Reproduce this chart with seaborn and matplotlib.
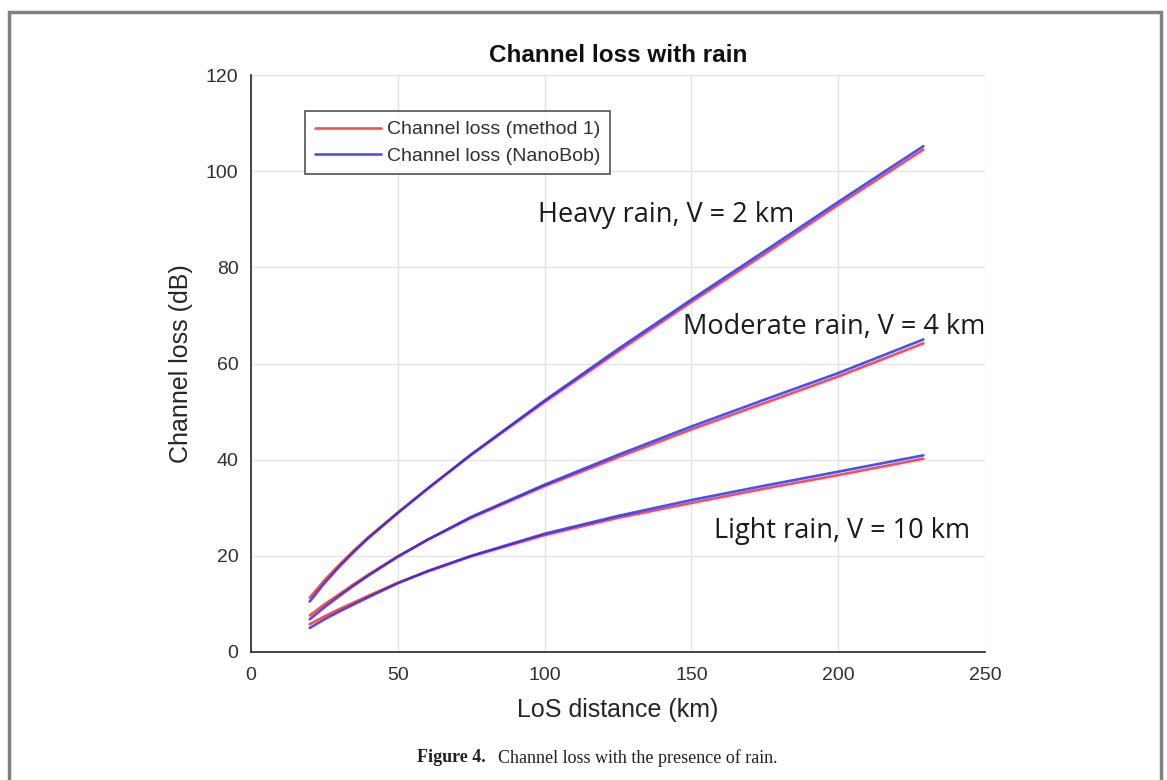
import numpy as np
import pandas as pd
import matplotlib
matplotlib.use("Agg")
import matplotlib.pyplot as plt
import seaborn as sns
from matplotlib.patches import Rectangle

# ---- data ----
distance_km = [20, 25, 30, 35, 40, 50, 60, 75, 100, 125, 150, 175, 200, 229]

heavy_method1 = [11.3, 14.9, 18.1, 21.1, 23.9, 29.0, 33.9, 41.0, 52.0, 62.5, 72.8, 82.8, 93.0, 104.5]
heavy_nanobob = [10.5, 14.3, 17.7, 20.8, 23.7, 28.9, 33.9, 41.1, 52.3, 63.0, 73.3, 83.4, 93.6, 105.2]

moderate_method1 = [7.6, 9.9, 12.0, 14.1, 16.1, 19.9, 23.3, 27.9, 34.5, 40.5, 46.3, 51.8, 57.3, 64.2]
moderate_nanobob = [6.8, 9.3, 11.6, 13.8, 15.9, 19.8, 23.3, 28.1, 34.8, 41.0, 46.9, 52.5, 58.0, 65.0]

light_method1 = [5.8, 7.4, 8.9, 10.3, 11.7, 14.4, 16.7, 19.9, 24.3, 27.9, 31.0, 34.0, 36.8, 40.2]
light_nanobob = [5.0, 6.8, 8.4, 9.9, 11.4, 14.3, 16.8, 20.0, 24.6, 28.3, 31.6, 34.6, 37.5, 40.9]

methods = ["Channel loss (method 1)", "Channel loss (NanoBob)"]
scenarios = ["Heavy rain, V = 2 km", "Moderate rain, V = 4 km", "Light rain, V = 10 km"]
label_x = [97.8, 147.1, 157.7]
label_y = [90.9, 67.6, 25.2]

x_ticks = [0, 50, 100, 150, 200, 250]
y_ticks = [0, 20, 40, 60, 80, 100, 120]

# ---- long-form table ----
series = {
    (scenarios[0], methods[0]): heavy_method1,
    (scenarios[0], methods[1]): heavy_nanobob,
    (scenarios[1], methods[0]): moderate_method1,
    (scenarios[1], methods[1]): moderate_nanobob,
    (scenarios[2], methods[0]): light_method1,
    (scenarios[2], methods[1]): light_nanobob,
}
rows = []
for (sc, m), vals in series.items():
    for x, v in zip(distance_km, vals):
        rows.append({"LoS distance (km)": x, "Channel loss (dB)": v,
                     "method": m, "scenario": sc})
df = pd.DataFrame(rows)

sns.set_theme(style="white")
plt.rcParams["font.family"] = ["Liberation Sans", "DejaVu Sans"]

fig = plt.figure(figsize=(11.67, 7.80), dpi=100)
ax = fig.add_axes([251 / 1167, 1 - 652 / 780, (985 - 251) / 1167, (652 - 75) / 780])

sns.lineplot(data=df, x="LoS distance (km)", y="Channel loss (dB)",
             hue="method", hue_order=methods, units="scenario", estimator=None,
             palette=["#ff2020", "#2020ff"], linewidth=1.9, alpha=0.8,
             sort=True, ax=ax)

ax.set_xlim(0, 250)
ax.set_ylim(0, 120)
ax.set_xticks(x_ticks)
ax.set_yticks(y_ticks)
ax.tick_params(axis="both", direction="in", length=5, width=1, colors="#262626",
               labelsize=14, labelcolor="#303030")
ax.tick_params(axis="x", pad=11)
ax.tick_params(axis="y", pad=9)
ax.grid(True, color="#e3e3e3", linewidth=1)
for s in ["top", "right"]:
    ax.spines[s].set_visible(False)
for s in ["left", "bottom"]:
    ax.spines[s].set_color("#262626")
    ax.spines[s].set_linewidth(1.2)

ax.set_xlabel("LoS distance (km)", fontsize=18, color="#262626", labelpad=10)
ax.set_ylabel("Channel loss (dB)", fontsize=18, color="#262626", labelpad=9)
ax.set_title("Channel loss with rain", fontsize=17.5, fontweight="bold", pad=9,
             color="#111111")

for txt, lx, ly in zip(scenarios, label_x, label_y):
    ax.text(lx, ly, txt, fontsize=19.5, family=["Open Sans", "DejaVu Sans"],
            color="#1a1a1a", va="center", ha="left")

leg = ax.legend(loc="upper left", bbox_to_anchor=(0.0736, 0.9376), fontsize=14,
                handlelength=3.4, handletextpad=0.3, borderpad=0.5,
                labelspacing=0.45, frameon=True, fancybox=False, borderaxespad=0)
leg.get_frame().set_edgecolor("#262626")
leg.get_frame().set_linewidth(1.2)
for t in leg.get_texts():
    t.set_color("#303030")

# outer figure frame
fig.patches.append(Rectangle((9 / 1167, -0.05), (1161 - 9) / 1167, 1.05 - 12 / 780,
                             transform=fig.transFigure, fill=False,
                             edgecolor="#808080", linewidth=2.5))

# caption
t1 = fig.text(417 / 1167, 1 - 758 / 780, "Figure 4.", fontsize=13, fontweight="bold",
              family=["Liberation Serif"], va="center", ha="left", color="#231f20")
fig.canvas.draw()
bb = t1.get_window_extent()
fig.text((bb.x1 + 12) / 1167, 1 - 758 / 780, "Channel loss with the presence of rain.",
         fontsize=13, family=["Liberation Serif"], va="center", ha="left", color="#231f20")

fig.savefig("out.png", dpi=100, facecolor="white")
